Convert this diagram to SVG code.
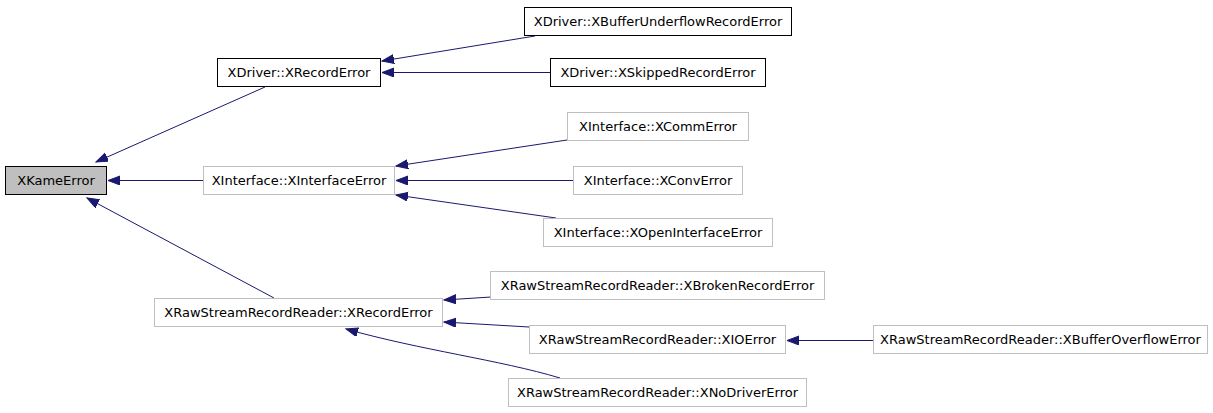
<svg xmlns="http://www.w3.org/2000/svg" width="1213" height="413" viewBox="0 0 1213 413">
<style>
.n rect{fill:#fff;stroke:#bfbfbf;stroke-width:1}
.n.k rect{stroke:#000}
.n.root rect{fill:#bfbfbf;stroke:#000}
.n text{font-family:"DejaVu Sans",sans-serif;font-size:13px;fill:#000;text-anchor:middle}
.e path{fill:none;stroke:#191970;stroke-width:1}
</style>
<defs>
<marker id="ah" markerUnits="userSpaceOnUse" markerWidth="14" markerHeight="10" refX="12" refY="4.5" orient="auto">
<path d="M0,0 L12,4.5 L0,9 Z" fill="#191970" stroke="#191970" stroke-width="1"/>
</marker>
</defs>
<rect width="1213" height="413" fill="#fff"/>
<g class="e" id="edges">
<path d="M265,87 L96,162" marker-end="url(#ah)"/>
<path d="M203,180.5 L108,180.5" marker-end="url(#ah)"/>
<path d="M274,298 L87,198" marker-end="url(#ah)"/>
<path d="M535,36 L382,61" marker-end="url(#ah)"/>
<path d="M550,72.5 L382,72.5" marker-end="url(#ah)"/>
<path d="M567,140 L396,166" marker-end="url(#ah)"/>
<path d="M573,180.5 L396,180.5" marker-end="url(#ah)"/>
<path d="M556,218 L396,195" marker-end="url(#ah)"/>
<path d="M491,297 L444,300" marker-end="url(#ah)"/>
<path d="M529,327 L444,322" marker-end="url(#ah)"/>
<path d="M560,378 C500,360 420,350 346,329" marker-end="url(#ah)"/>
<path d="M873,340.5 L787,340.5" marker-end="url(#ah)"/>
</g>
<g class="n root" id="XKameError"><rect x="5.5" y="166.5" width="101" height="28"/><text x="56" y="185">XKameError</text></g>
<g class="n k" id="XDriver_XRecordError"><rect x="217.5" y="58.5" width="163" height="28"/><text x="299" y="77">XDriver::XRecordError</text></g>
<g class="n k" id="XDriver_XBufferUnderflowRecordError"><rect x="524.5" y="7.5" width="267" height="28"/><text x="658" y="26">XDriver::XBufferUnderflowRecordError</text></g>
<g class="n k" id="XDriver_XSkippedRecordError"><rect x="550.5" y="58.5" width="215" height="28"/><text x="658" y="77">XDriver::XSkippedRecordError</text></g>
<g class="n" id="XInterface_XInterfaceError"><rect x="203.5" y="166.5" width="191" height="28"/><text x="299" y="185">XInterface::XInterfaceError</text></g>
<g class="n" id="XInterface_XCommError"><rect x="567.5" y="112.5" width="181" height="28"/><text x="658" y="131">XInterface::XCommError</text></g>
<g class="n" id="XInterface_XConvError"><rect x="573.5" y="166.5" width="169" height="28"/><text x="658" y="185">XInterface::XConvError</text></g>
<g class="n" id="XInterface_XOpenInterfaceError"><rect x="543.5" y="218.5" width="229" height="28"/><text x="658" y="237">XInterface::XOpenInterfaceError</text></g>
<g class="n" id="XRaw_XRecordError"><rect x="154.5" y="298.5" width="288" height="28"/><text x="298.5" y="317">XRawStreamRecordReader::XRecordError</text></g>
<g class="n" id="XRaw_XBrokenRecordError"><rect x="490.5" y="271.5" width="334" height="28"/><text x="657.5" y="290">XRawStreamRecordReader::XBrokenRecordError</text></g>
<g class="n" id="XRaw_XIOError"><rect x="529.5" y="325.5" width="256" height="28"/><text x="657.5" y="344">XRawStreamRecordReader::XIOError</text></g>
<g class="n" id="XRaw_XNoDriverError"><rect x="508.5" y="378.5" width="298" height="28"/><text x="657.5" y="397">XRawStreamRecordReader::XNoDriverError</text></g>
<g class="n" id="XRaw_XBufferOverflowError"><rect x="873.5" y="325.5" width="334" height="28"/><text x="1040.5" y="344">XRawStreamRecordReader::XBufferOverflowError</text></g>
</svg>
